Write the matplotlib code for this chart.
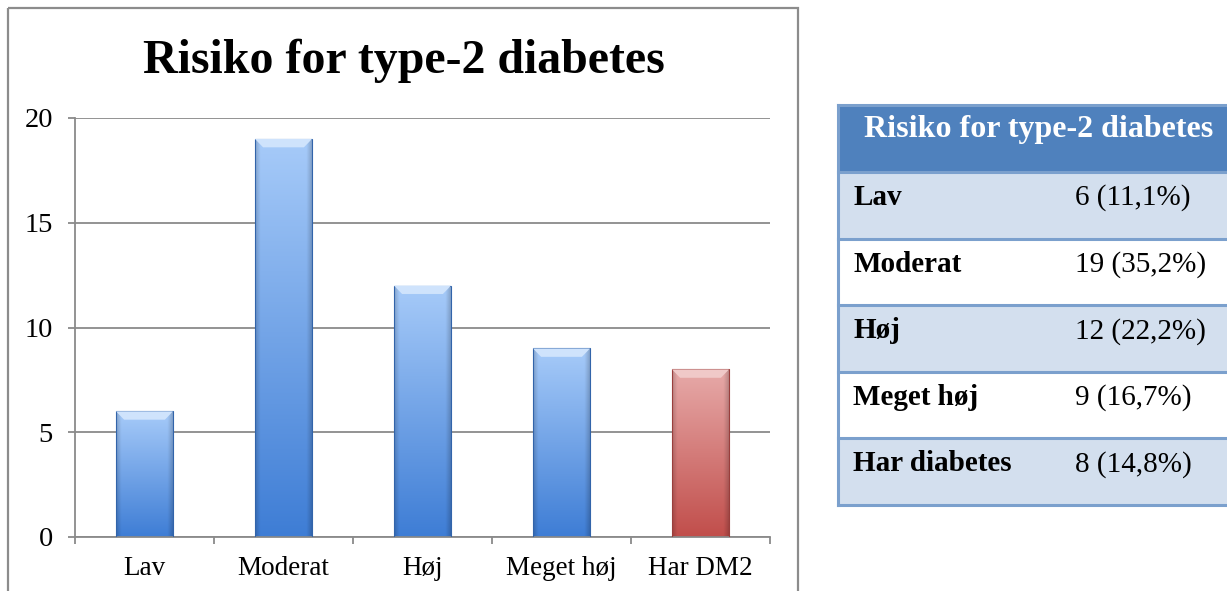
import numpy as np
import matplotlib
matplotlib.use("Agg")
import matplotlib.pyplot as plt
from matplotlib.patches import Rectangle, Polygon
from matplotlib.colors import to_rgb

plt.rcParams['font.family'] = ['Liberation Serif', 'DejaVu Serif']

# ---- data ----
categories = ["Lav", "Moderat", "Høj", "Meget høj", "Har DM2"]
counts = [6, 19, 12, 9, 8]
bar_colors = ["blue", "blue", "blue", "blue", "red"]
yticks = [0, 5, 10, 15, 20]
chart_title = "Risiko for type-2 diabetes"

table_title = "Risiko for type-2 diabetes"
table_labels = ["Lav", "Moderat", "Høj", "Meget høj", "Har diabetes"]
table_values = ["6 (11,1%)", "19 (35,2%)", "12 (22,2%)", "9 (16,7%)", "8 (14,8%)"]

# colour ramps (top, bottom, bevel highlight) for the shaded bars
ramps = {
    "blue": ("#A7CBF9", "#3E7DD5", "#CFE3FC"),
    "red": ("#E7AAA9", "#C14E4B", "#F0C9C8"),
}

W, H = 1227, 591
fig = plt.figure(figsize=(W / 100, H / 100), dpi=100)

# overlay in pixel coordinates for frame and table
ov = fig.add_axes([0, 0, 1, 1], zorder=0)
ov.set_xlim(0, W)
ov.set_ylim(H, 0)
ov.axis("off")

# chart frame
ov.add_patch(Rectangle((8, 8), 790, 600, fill=False, ec="#8C8C8C", lw=1.6))

# chart axes
x0, x1, ytop, ybot = 75, 770, 118, 537
ax = fig.add_axes([x0 / W, (H - ybot) / H, (x1 - x0) / W, (ybot - ytop) / H], zorder=1)
ax.patch.set_alpha(0)
ax.set_xlim(-0.5, len(categories) - 0.5)
ax.set_ylim(0, 20)
ax.set_yticks(yticks)
ax.yaxis.grid(True, color="#8A8A8A", lw=1.3)
ax.set_axisbelow(True)
for s in ["top", "right"]:
    ax.spines[s].set_visible(False)
for s in ["left", "bottom"]:
    ax.spines[s].set_color("#8A8A8A")
    ax.spines[s].set_linewidth(1.3)
ax.set_xticks(range(len(categories)))
ax.set_xticklabels(categories, fontsize=19.5)
ax.set_xticks(np.arange(-0.5, len(categories), 1.0), minor=True)
ax.tick_params(axis="x", which="major", length=0, pad=14)
ax.tick_params(axis="x", which="minor", length=5, width=1.3, color="#8A8A8A", direction="out")
ax.tick_params(axis="y", length=5, width=1.3, color="#8A8A8A", labelsize=20.5, pad=11)

bars = ax.bar(range(len(categories)), counts, width=0.41, color="none", zorder=2)

# shading for each bar: vertical ramp with darker edges and a bevelled top
n = 200
for rect, key in zip(bars, bar_colors):
    top_c, bot_c, hi_c = (np.array(to_rgb(c)) for c in ramps[key])
    bx, bw, bh = rect.get_x(), rect.get_width(), rect.get_height()
    t = np.linspace(0, 1, n)[:, None, None]
    base = top_c * (1 - t) + bot_c * t
    u = np.linspace(-1, 1, 60)[None, :, None]
    edge = 1 - 0.18 * np.clip((np.abs(u) - 0.82) / 0.18, 0, 1)
    img = np.clip(base * edge, 0, 1)
    im = ax.imshow(img, extent=(bx, bx + bw, 0, bh), aspect="auto", zorder=2,
                   interpolation="bilinear")
    im.set_clip_path(rect)
    ax.add_patch(Rectangle((bx, 0), bw, bh, fill=False, ec=bot_c * 0.8, lw=0.8, zorder=3))
    dx, dy = 0.058, 0.4
    ax.add_patch(Polygon([(bx, bh), (bx + bw, bh), (bx + bw - dx, bh - dy), (bx + dx, bh - dy)],
                         closed=True, fc=hi_c, ec="none", zorder=3))
ax.set_xlim(-0.5, len(categories) - 0.5)
ax.set_ylim(0, 20)

ov.text(404, 73, chart_title, ha="center", va="baseline", fontsize=34.5, fontweight="bold")

# ---- table ----
tx0 = 838
header_top, header_bot = 105, 172
row_h = 66.6
ov.add_patch(Rectangle((tx0, header_top), W - tx0 + 5, header_bot - header_top,
                       fc="#4F81BD", ec="none"))
ov.text(1039, 137, table_title, ha="center", va="baseline", fontsize=23,
        fontweight="bold", color="white")
line_c = "#7BA0CD"
for i, (lab, val) in enumerate(zip(table_labels, table_values)):
    ry = header_bot + i * row_h
    fc = "#D3DFEE" if i % 2 == 0 else "white"
    ov.add_patch(Rectangle((tx0, ry), W - tx0 + 5, row_h, fc=fc, ec="none"))
    ov.plot([tx0, W], [ry, ry], color=line_c, lw=2.2)
    ov.text(853, ry + 33, lab, ha="left", va="baseline", fontsize=21, fontweight="bold")
    ov.text(1075, ry + 33, val, ha="left", va="baseline", fontsize=21)
bottom = header_bot + len(table_labels) * row_h
ov.plot([tx0, W], [bottom, bottom], color=line_c, lw=2.2)
ov.plot([tx0, tx0], [header_top, bottom], color=line_c, lw=2.2)
ov.plot([tx0, W], [header_top, header_top], color=line_c, lw=2.2)

fig.savefig("out.png", dpi=100)
